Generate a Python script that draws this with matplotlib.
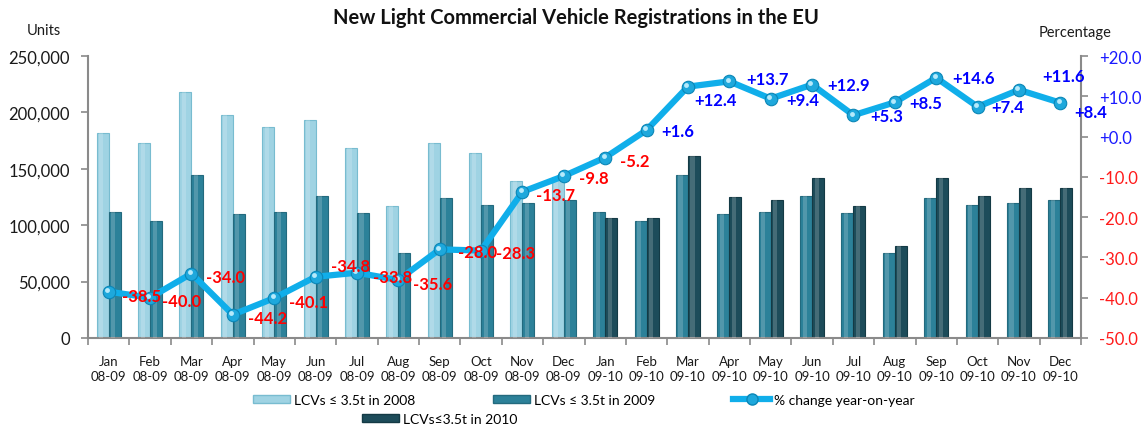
import numpy as np
import matplotlib
matplotlib.use("Agg")
import matplotlib.pyplot as plt
import matplotlib.transforms as mtransforms
from matplotlib.patches import Patch
from matplotlib.lines import Line2D

plt.rcParams['font.family'] = ['Lato', 'DejaVu Sans']

# ---------------- data ----------------
months = ["Jan", "Feb", "Mar", "Apr", "May", "Jun",
          "Jul", "Aug", "Sep", "Oct", "Nov", "Dec"]
periods = ["08-09", "09-10"]

reg_2008 = [181500, 173100, 217800, 197400, 187000, 193200,
            168100, 117000, 172600, 164300, 138900, 142300]
reg_2009 = [111400, 103600, 144200, 110200, 111400, 126200,
            111200, 75000, 123800, 117500, 119600, 122600]
reg_2010 = [106100, 106100, 161300, 125300, 122600, 142100,
            117300, 81800, 142100, 126200, 133000, 133000]

pct_change = [-38.5, -40.0, -34.0, -44.2, -40.1, -34.8, -33.8, -35.6,
              -28.0, -28.3, -13.7, -9.8, -5.2, 1.6, 12.4, 13.7,
              9.4, 12.9, 5.3, 8.5, 14.6, 7.4, 11.6, 8.4]

left_ticks = [0, 50000, 100000, 150000, 200000, 250000]
right_ticks = [-50, -40, -30, -20, -10, 0, 10, 20]

legend_labels = ["LCVs \u2264 3.5t in 2008", "LCVs \u2264 3.5t in 2009",
                 "% change year-on-year", "LCVs\u22643.5t in 2010"]

# label offsets (pixels) relative to markers
label_dx = [13, 12, 15, 15, 15, 15, 16, 15, 18, 15, 14, 15,
            15, 15, 6, 17, 16, 15, 17, 14, 16, 14, 23, 14]
label_dy = [-4, -3, -3, -3, -4, 11, -4, -4, -3, -2, -3, -2,
            -3, -1, -13, 2, -1, 0, -1, -1, 0, 0, 14, -9]

# ---------------- style ----------------
c_light = "#9fd3e3"
c_light_edge = "#78bcd0"
c_mid = "#2c8199"
c_mid_edge = "#236a7e"
c_dark = "#1d4c5a"
c_dark_edge = "#143a45"
c_line = "#10aeea"
spine_c = "#8a8a8a"

W, H = 1146, 427
fig = plt.figure(figsize=(W / 100, H / 100), dpi=100)
ax = fig.add_axes([88 / W, 1 - 339 / H, (1081 - 88) / W, (339 - 57) / H])

n = len(months) * 2
x = np.arange(n)
x1 = np.arange(12)
x2 = np.arange(12, 24)
bw = 0.29
off = 0.145

def draw_bars(xs, vals, face, edge):
    ax.bar(xs, vals, width=bw, color=face, edgecolor=edge, linewidth=0.8, zorder=2)
    # cylinder-like highlight
    ax.bar(xs - bw * 0.12, vals, width=bw * 0.35, color="white", alpha=0.18,
           linewidth=0, zorder=3)

draw_bars(x1 - off, reg_2008, c_light, c_light_edge)
draw_bars(x1 + off, reg_2009, c_mid, c_mid_edge)
draw_bars(x2 - off, reg_2009, c_mid, c_mid_edge)
draw_bars(x2 + off, reg_2010, c_dark, c_dark_edge)

ax.set_xlim(-0.5, n - 0.5)
ax.set_ylim(0, 250000)
ax.set_yticks(left_ticks)
ax.set_yticklabels([f"{v:,}" for v in left_ticks], fontsize=12, color="#1a1a1a")
ax.set_xticks(x)
ax.set_xticklabels([f"{m}\n{p}" for p in periods for m in months],
                   fontsize=9.5, color="#1a1a1a", linespacing=1.35)
ax.set_xticks(np.arange(-0.5, n, 1), minor=True)
ax.tick_params(axis='x', which='major', length=0, pad=12)
ax.tick_params(axis='x', which='minor', length=5, width=1.2, color=spine_c, direction='out')
ax.tick_params(axis='y', length=5, width=1.2, color=spine_c, pad=8)
for s in ["top", "right"]:
    ax.spines[s].set_visible(False)
for s in ["left", "bottom"]:
    ax.spines[s].set_color(spine_c)
    ax.spines[s].set_linewidth(1.5)

# ---------------- line on secondary axis ----------------
ax2 = ax.twinx()
ax2.set_ylim(-50, 20)
ax2.plot(x, pct_change, color=c_line, lw=4.5, zorder=4, solid_joinstyle='round')
ax2.plot(x, pct_change, 'o', ms=9, mfc="#1ea8dc", mec="#0b86b6", mew=0.8, zorder=5)
hl = mtransforms.offset_copy(ax2.transData, fig=fig, x=-1.2, y=1.2, units='points')
ax2.plot(x, pct_change, 'o', ms=3.5, mfc="#c8f2ff", mec="none", zorder=6,
         alpha=0.9, transform=hl)
ax2.set_yticks(right_ticks)
ax2.set_yticklabels([f"{v:+.1f}" for v in right_ticks], fontsize=12)
for t, v in zip(ax2.get_yticklabels(), right_ticks):
    t.set_color("#1a1aff" if v >= 0 else "#ff1a1a")
ax2.tick_params(axis='y', length=5, width=1.2, color=spine_c, pad=8)
for s in ["top", "left", "bottom"]:
    ax2.spines[s].set_visible(False)
ax2.spines["right"].set_color(spine_c)
ax2.spines["right"].set_linewidth(1.5)

for xi, v, dx, dy in zip(x, pct_change, label_dx, label_dy):
    ax2.annotate(f"{v:+.1f}", (xi, v), xytext=(dx, dy), textcoords='offset pixels',
                 ha='left', va='center', fontsize=12, fontweight='bold',
                 color="#0000ff" if v >= 0 else "#ff0000", zorder=7)

# ---------------- texts ----------------
fig.text(576 / W, 1 - 18 / H, "New Light Commercial Vehicle Registrations in the EU",
         ha='center', va='center', fontsize=14.5, fontweight='bold', color="#111111")
fig.text(44 / W, 1 - 31 / H, "Units", ha='center', va='center', fontsize=10.5, color="#1a1a1a")
fig.text(1075 / W, 1 - 33 / H, "Percentage", ha='center', va='center', fontsize=10.5,
         color="#1a1a1a")

# ---------------- legends ----------------
h1 = Patch(facecolor=c_light, edgecolor=c_light_edge)
h2 = Patch(facecolor=c_mid, edgecolor=c_mid_edge)
h3 = Line2D([0], [0], color=c_line, lw=4.5, marker='o', ms=8, mfc="#1ea8dc", mec="#0b86b6")
h4 = Patch(facecolor=c_dark, edgecolor=c_dark_edge)

leg1 = fig.legend([h1, h2, h3], legend_labels[:3], loc='center',
                  bbox_to_anchor=(584 / W, 1 - 401 / H), ncol=3, frameon=False,
                  fontsize=10, handlelength=2.65, handleheight=0.55,
                  handletextpad=0.3, columnspacing=5.6, borderpad=0)
leg2 = fig.legend([h4], legend_labels[3:], loc='center',
                  bbox_to_anchor=(440 / W, 1 - 420 / H), frameon=False,
                  fontsize=10, handlelength=2.65, handleheight=0.55,
                  handletextpad=0.3, borderpad=0)

fig.savefig("out.png", dpi=100)
